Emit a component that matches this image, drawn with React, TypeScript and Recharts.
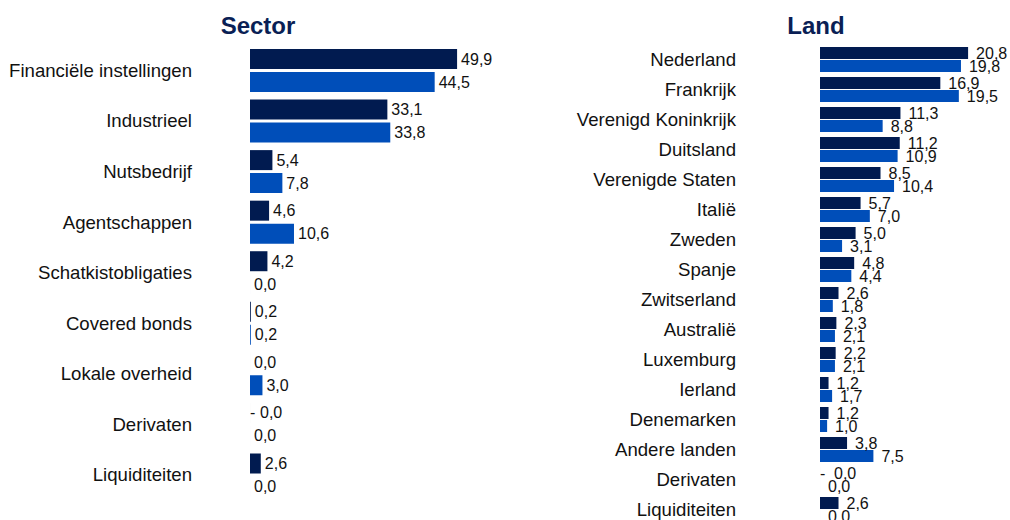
import React from "react";
import { BarChart, Bar, XAxis, YAxis, LabelList } from "recharts";

const FONT = "'Liberation Sans', Arial, sans-serif";
const DARK = "#011B50";
const BLUE = "#004EB9";

// Sector
const sectorCategories = [
  "Financiële instellingen",
  "Industrieel",
  "Nutsbedrijf",
  "Agentschappen",
  "Schatkistobligaties",
  "Covered bonds",
  "Lokale overheid",
  "Derivaten",
  "Liquiditeiten",
];
const sectorDark = [49.9, 33.1, 5.4, 4.6, 4.2, 0.2, 0.0, -0, 2.6];
const sectorBlue = [44.5, 33.8, 7.8, 10.6, 0.0, 0.2, 3.0, 0.0, 0.0];

// Land
const landCategories = [
  "Nederland",
  "Frankrijk",
  "Verenigd Koninkrijk",
  "Duitsland",
  "Verenigde Staten",
  "Italië",
  "Zweden",
  "Spanje",
  "Zwitserland",
  "Australië",
  "Luxemburg",
  "Ierland",
  "Denemarken",
  "Andere landen",
  "Derivaten",
  "Liquiditeiten",
];
const landDark = [20.8, 16.9, 11.3, 11.2, 8.5, 5.7, 5.0, 4.8, 2.6, 2.3, 2.2, 1.2, 1.2, 3.8, -0, 2.6];
const landBlue = [19.8, 19.5, 8.8, 10.9, 10.4, 7.0, 3.1, 4.4, 1.8, 2.1, 2.1, 1.7, 1.0, 7.5, 0.0, 0.0];

const sectorData = sectorCategories.map((name, i) => ({ name, a: sectorDark[i], b: sectorBlue[i] }));
const landData = landCategories.map((name, i) => ({ name, a: landDark[i], b: landBlue[i] }));

const isNeg = (n: number) => n < 0 || Object.is(n, -0);
const num = (n: number) => Math.abs(n).toFixed(1).replace(".", ",");

// tiny size so zero values still get a label
const zeroSize = (v: any) => (Number(v) === 0 ? 0.01 : 0);

const makeLabel = (offset: number, negGap: number) => (props: any) => {
  const { x, y, width, height, value } = props;
  const n = Number(value);
  const cy = Number(y) + Number(height) / 2;
  const common = { y: cy, dominantBaseline: "central" as const, fontSize: 16, fontFamily: FONT, fill: "#111" };
  if (isNeg(n)) {
    return (
      <g>
        <text x={Number(x)} {...common}>-</text>
        <text x={Number(x) + negGap} {...common}>{num(n)}</text>
      </g>
    );
  }
  return (
    <text x={Number(x) + Number(width) + offset} {...common}>
      {num(n)}
    </text>
  );
};

const tickStyle = { fontSize: 18.6, fontFamily: FONT, fill: "#111" };

const titleStyle: React.CSSProperties = {
  position: "absolute",
  top: 14,
  width: 200,
  textAlign: "center",
  fontFamily: FONT,
  fontWeight: "bold",
  fontSize: 24,
  lineHeight: "24px",
  color: "#0A1F55",
};

export default function App() {
  return (
    <div
      style={{
        position: "absolute",
        left: 0,
        top: 0,
        width: 1010,
        height: 520,
        overflow: "hidden",
        background: "#fff",
      }}
    >
      <div style={{ ...titleStyle, left: 158 }}>Sector</div>
      <div style={{ ...titleStyle, left: 716 }}>Land</div>

      <div style={{ position: "absolute", left: 0, top: 0 }}>
        <BarChart
          width={500}
          height={520}
          layout="vertical"
          data={sectorData}
          margin={{ top: 45, right: 1, bottom: 20, left: 0 }}
          barGap={3}
          barSize={20}
        >
          <XAxis type="number" domain={[0, 60]} hide />
          <YAxis
            type="category"
            dataKey="name"
            width={250}
            axisLine={false}
            tickLine={false}
            tickSize={0}
            tickMargin={58}
            tick={tickStyle}
            interval={0}
          />
          <Bar dataKey="a" fill={DARK} minPointSize={zeroSize} isAnimationActive={false}>
            <LabelList dataKey="a" content={makeLabel(4, 10)} />
          </Bar>
          <Bar dataKey="b" fill={BLUE} minPointSize={zeroSize} isAnimationActive={false}>
            <LabelList dataKey="b" content={makeLabel(4, 10)} />
          </Bar>
        </BarChart>
      </div>

      <div style={{ position: "absolute", left: 540, top: 0 }}>
        <BarChart
          width={470}
          height={530}
          layout="vertical"
          data={landData}
          margin={{ top: 44, right: 12, bottom: 6, left: 0 }}
          barGap={1}
          barSize={12}
        >
          <XAxis type="number" domain={[0, 25]} hide />
          <YAxis
            type="category"
            dataKey="name"
            width={280}
            axisLine={false}
            tickLine={false}
            tickSize={0}
            tickMargin={84}
            tick={tickStyle}
            interval={0}
          />
          <Bar dataKey="a" fill={DARK} minPointSize={zeroSize} isAnimationActive={false}>
            <LabelList dataKey="a" content={makeLabel(8, 14)} />
          </Bar>
          <Bar dataKey="b" fill={BLUE} minPointSize={zeroSize} isAnimationActive={false}>
            <LabelList dataKey="b" content={makeLabel(8, 14)} />
          </Bar>
        </BarChart>
      </div>
    </div>
  );
}
